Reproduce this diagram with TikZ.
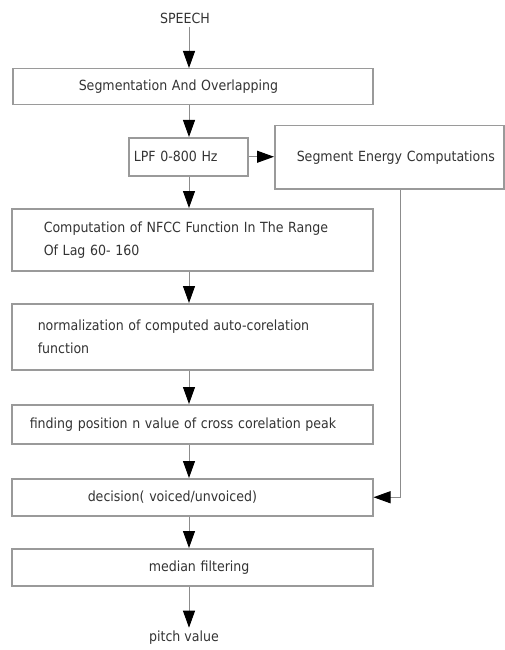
\documentclass[tikz,border=0pt]{standalone}
\usepackage{fontspec}
\setmainfont{DejaVu Sans Condensed}
\usetikzlibrary{arrows.meta}
\definecolor{boxgray}{HTML}{9A9A9A}
\definecolor{linegray}{HTML}{8C8C8C}
\definecolor{txtgray}{HTML}{333333}

\begin{document}
\begin{tikzpicture}[x=1pt, y=-1pt, >={Triangle[length=17pt, width=12pt, color=black]},
  font=\fontsize{14}{23}\selectfont, text=txtgray,
  stage/.style={draw=boxgray, line width=1.5pt, anchor=north west, align=left, inner ysep=0pt},
  flow/.style={->, draw=linegray, line width=1pt}]
\useasboundingbox (0,0) rectangle (505,650);

\coordinate(axis) at (189,0);
\coordinate(fb) at (400,0);

\node(speech) at (185,18) {SPEECH};
\node(seg)[stage, minimum height=36pt, inner xsep=66pt, text width=228pt] at (12,68) {Segmentation And Overlapping};
\node(lpf)[stage, minimum height=38pt, inner xsep=5pt, text width=109pt] at (128,137) {LPF 0-800 Hz};
\node(energy)[stage, minimum height=63pt, inner xsep=22pt, text width=185pt] at (274,125) {\mbox{Segment Energy Computations}};
\node(nfcc)[stage, minimum height=62pt, inner xsep=32pt, text width=297pt] at (11,208) {Computation of NFCC Function In The Range\\Of Lag 60- 160};
\node(norm)[stage, minimum height=66pt, inner xsep=26pt, text width=309pt] at (11,303) {normalization of computed auto-corelation\\function};
\node(peak)[stage, minimum height=39pt, inner xsep=18pt, text width=325pt] at (11,404) {\mbox{finding position n value of cross corelation peak}};
\node(dec)[stage, minimum height=37pt, inner xsep=76pt, text width=209pt] at (11,478) {decision( voiced/unvoiced)};
\node(med)[stage, minimum height=37pt, inner xsep=137pt, text width=87pt] at (11,548) {\mbox{median filtering}};
\node(pitch) at (184,638) {pitch value};

\draw (speech.south -| axis) edge[flow] (seg.north -| axis);
\draw (seg.south -| axis) edge[flow] (lpf.north -| axis);
\draw (lpf.east) edge[flow] (energy.west |- lpf.east);
\draw (lpf.south -| axis) edge[flow] (nfcc.north -| axis);
\draw (nfcc.south -| axis) edge[flow] (norm.north -| axis);
\draw (norm.south -| axis) edge[flow] (peak.north -| axis);
\draw (peak.south -| axis) edge[flow] (dec.north -| axis);
\draw (dec.south -| axis) edge[flow] (med.north -| axis);
\draw (med.south -| axis) edge[flow] (pitch.north -| axis);
\draw[flow] (energy.south -| fb) |- (dec.east);
\end{tikzpicture}
\end{document}
